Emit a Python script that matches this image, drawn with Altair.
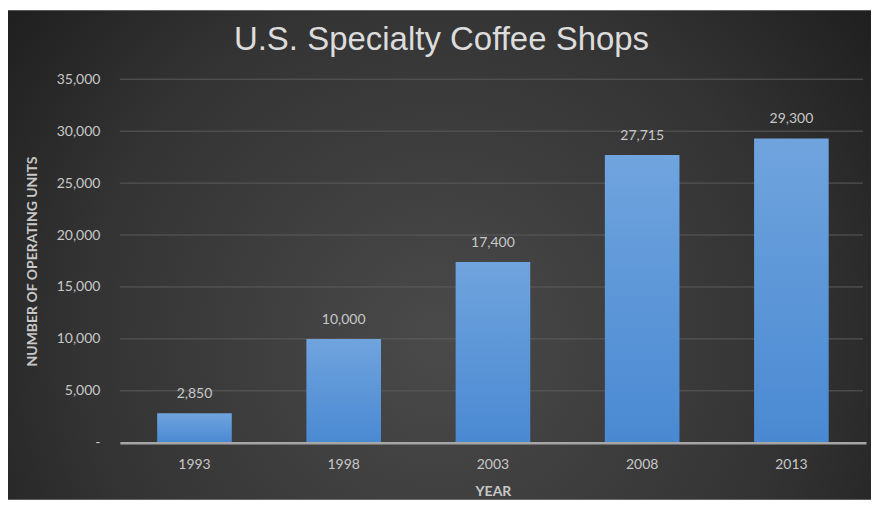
import altair as alt
import pandas as pd

years = ["1993", "1998", "2003", "2008", "2013"]
units = [2850, 10000, 17400, 27715, 29300]
y_ticks = [0, 5000, 10000, 15000, 20000, 25000, 30000, 35000]

df = pd.DataFrame({"year": years, "units": units})
grid_df = pd.DataFrame({"v": y_ticks[1:]})

W, H = 747, 364
PAD = {"left": 112, "top": 71, "right": 5, "bottom": 57}
LBL = "#c8c8c8"

bg = alt.Chart(alt.Data(values=[{"a": 1}])).mark_rect(
    fill=alt.RadialGradient(
        gradient="radial",
        x1=0.5, y1=0.6, r1=0.0,
        x2=0.5, y2=0.6, r2=0.75,
        stops=[
            alt.GradientStop(color="#4a4a4a", offset=0),
            alt.GradientStop(color="#333333", offset=0.55),
            alt.GradientStop(color="#141414", offset=1),
        ],
    )
).encode(
    x=alt.value(-113), x2=alt.value(W + 5),
    y=alt.value(-69), y2=alt.value(H + 57),
)

title = alt.Chart(alt.Data(values=[{"t": "U.S. Specialty Coffee Shops"}])).mark_text(
    font="Liberation Sans", fontSize=33, color="#dcdcdc",
    align="center", baseline="middle",
).encode(text="t:N", x=alt.value(322), y=alt.value(-39))

grid = alt.Chart(grid_df).mark_rule(color="#5c5c5c", strokeWidth=1).encode(
    y=alt.Y("v:Q", scale=alt.Scale(domain=[0, 35000], nice=False)),
    x=alt.value(0), x2=alt.value(W - 3),
)

base = alt.Chart(df)

bars = base.mark_bar(
    color=alt.LinearGradient(
        gradient="linear", x1=0, x2=0, y1=0, y2=1,
        stops=[
            alt.GradientStop(color="#6fa4de", offset=0),
            alt.GradientStop(color="#4a89d2", offset=1),
        ],
    )
).encode(
    x=alt.X("year:N", sort=years,
            scale=alt.Scale(paddingInner=0.5, paddingOuter=0.25),
            axis=alt.Axis(title="YEAR", labelAngle=0, labelPadding=15,
                          labelFontSize=14, labelColor=LBL, labelFont="Lato",
                          domainColor="#a6a6a6", domainWidth=2.5, ticks=False,
                          titleFont="Lato", titleFontSize=14, titleFontWeight="bold",
                          titleColor=LBL, titleY=49, titleBaseline="middle",
                          grid=False, zindex=1)),
    y=alt.Y("units:Q",
            scale=alt.Scale(domain=[0, 35000], nice=False),
            axis=alt.Axis(values=y_ticks, title="NUMBER OF OPERATING UNITS",
                          labelExpr="datum.value == 0 ? '-' : format(datum.value, ',')",
                          labelPadding=20, labelFontSize=14, labelColor=LBL,
                          labelFont="Lato", ticks=False, domain=False,
                          grid=False, zindex=1,
                          titleFont="Lato",
                          titleFontSize=14, titleFontWeight="bold",
                          titleColor=LBL, titleX=-87, titleY=H / 2,
                          titleAlign="center", titleBaseline="middle")),
)

labels = base.mark_text(
    font="Lato", fontSize=14, color=LBL, baseline="bottom", dy=-12,
).encode(
    x=alt.X("year:N", sort=years),
    y="units:Q",
    text=alt.Text("units:Q", format=","),
)

chart = alt.layer(bg, grid, bars, labels, title).properties(
    width=W, height=H,
    autosize=alt.AutoSizeParams(type="none"),
    padding=PAD,
).configure_view(stroke=None).configure(background="white")

chart.save("out.html", embed_options={"renderer": "svg", "actions": False})
